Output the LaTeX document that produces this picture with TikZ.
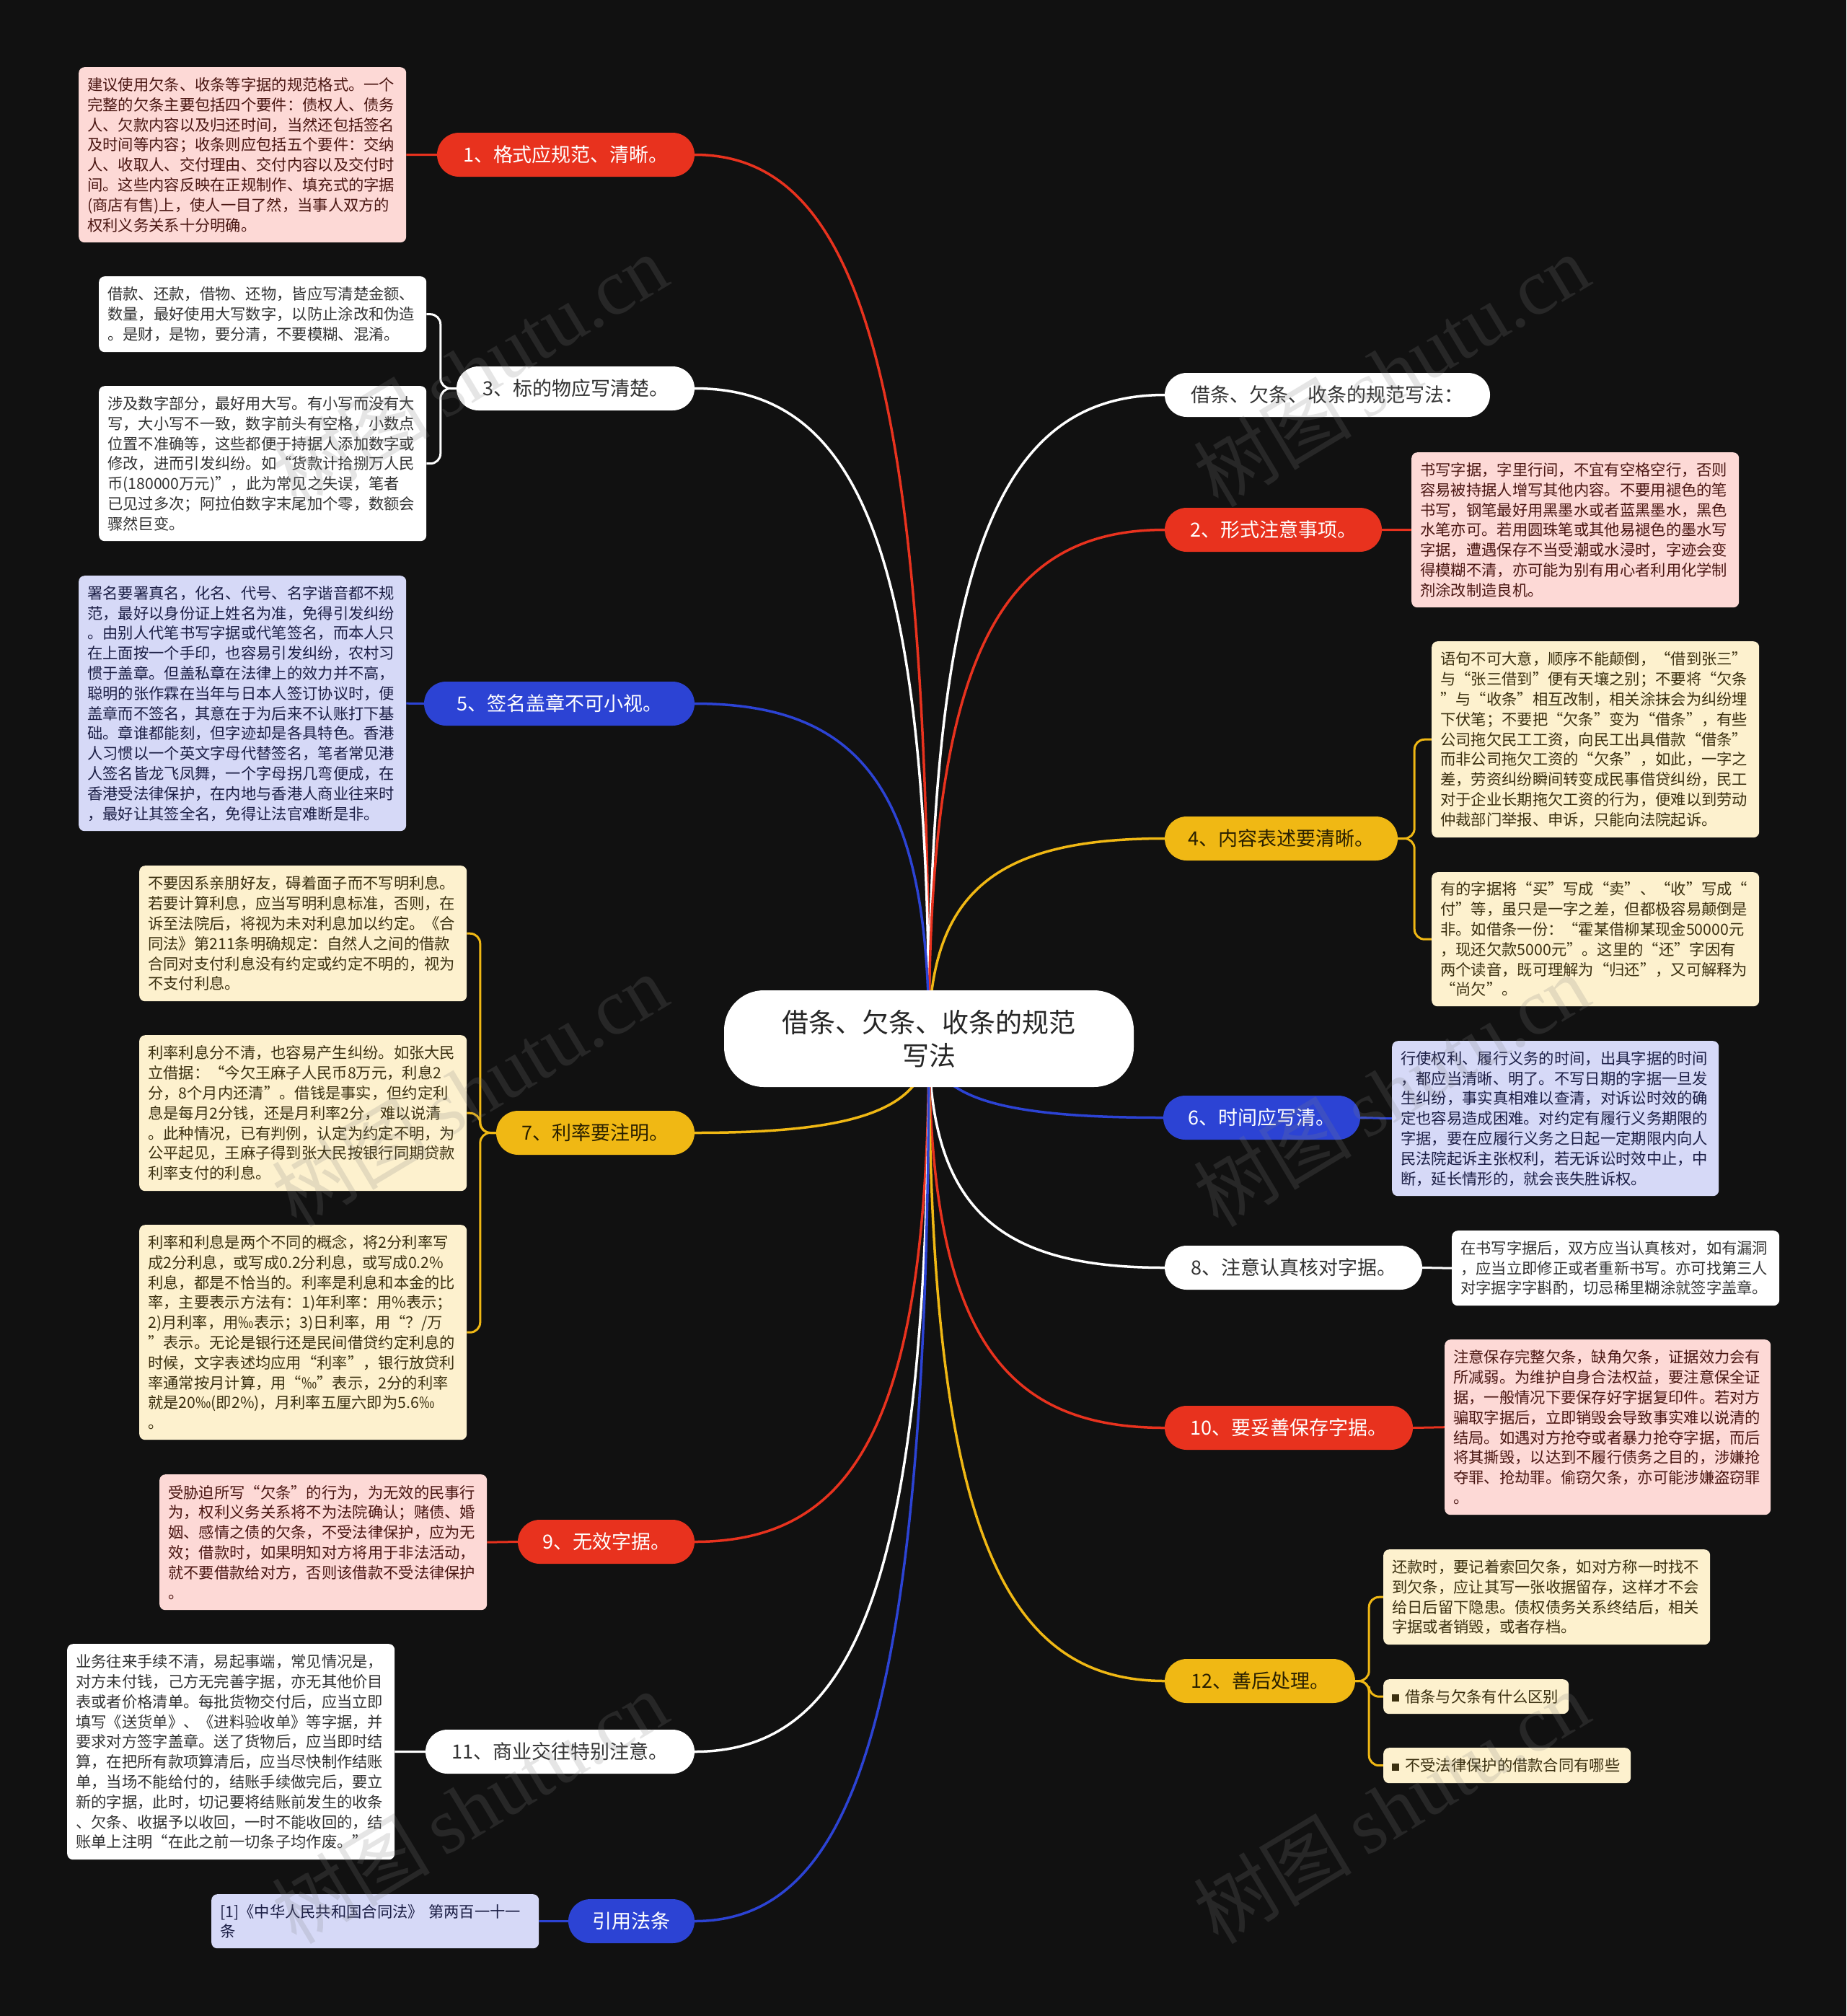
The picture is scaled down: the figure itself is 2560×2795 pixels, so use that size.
\documentclass[tikz,border=0pt]{standalone}
\usepackage{fontspec}
\setmainfont{Noto Sans CJK SC}
\newfontfamily\wmfont{Liberation Serif}
\usetikzlibrary{calc}
\pgfdeclarelayer{bglayer}
\pgfdeclarelayer{linklayer}
\pgfsetlayers{bglayer,linklayer,main}
\definecolor{bgc}{HTML}{111111}
\definecolor{redc}{HTML}{E8321E}
\definecolor{bluec}{HTML}{2C43D4}
\definecolor{yelc}{HTML}{F0B814}
\definecolor{pinkF}{HTML}{FDD9D6}
\definecolor{pinkT}{HTML}{4A1612}
\definecolor{lavF}{HTML}{D6D9F7}
\definecolor{lavT}{HTML}{1B1E45}
\definecolor{creF}{HTML}{FDF1CE}
\definecolor{creT}{HTML}{3B3010}
\definecolor{whtT}{HTML}{333333}
\definecolor{yelT}{HTML}{2A2000}
\newcommand\pl[7]{\pgfmathsetmacro\pw{#5-#3}\pgfmathsetmacro\pcx{(#3+#5)/2}\pgfmathsetmacro\pcy{(#4+#6)/2}\node[#2,minimum width=\pw pt] (#1) at (\pcx,\pcy) {#7};}
\newcommand\lf[7]{\pgfmathsetmacro\lw{#5-#3}\pgfmathsetmacro\lh{#6-#4}\pgfmathsetmacro\tw{#5-#3-24}\node[leaf,#2,minimum width=\lw pt,minimum height=\lh pt,text width=\tw pt] (#1) at (#3,#4) {#7};}
\newcommand\mlink[3]{\draw[mainlink,#1] (C.center) .. controls ($(C.center |- #2.#3)!0.25!(C.center)$) and ($(C.center |- #2.#3)!0.3!(#2.#3)$) .. (#2.#3);}
\begin{document}
\begin{tikzpicture}[x=1pt,y=-1pt,
  pill/.style={rounded corners=30.5pt,minimum height=61pt,inner sep=0pt,font=\fontsize{27pt}{32pt}\selectfont},
  redpill/.style={pill,fill=redc,text=white},
  bluepill/.style={pill,fill=bluec,text=white},
  yelpill/.style={pill,fill=yelc,text=yelT},
  whitepill/.style={pill,fill=white,text=whtT},
  leaf/.style={rounded corners=8pt,anchor=north west,inner xsep=12pt,inner ysep=0pt,align=left,font=\fontsize{21.3pt}{27.8pt}\selectfont},
  pinkleaf/.style={fill=pinkF,text=pinkT},
  lavleaf/.style={fill=lavF,text=lavT},
  creleaf/.style={fill=creF,text=creT},
  whtleaf/.style={fill=white,text=whtT},
  mainlink/.style={line width=3.5pt},
  leaflink/.style={line width=3pt,rounded corners=14pt},
  wm/.style={rotate=31,text=gray,opacity=0.2,font=\fontsize{110pt}{120pt}\selectfont}
]
\useasboundingbox (0,0) rectangle (2560,2795);
\begin{pgfonlayer}{bglayer}
\fill[bgc] (0,0) rectangle (2560,2795);
\end{pgfonlayer}

% centre
\node[fill=white,rounded corners=55pt,minimum width=568pt,minimum height=134pt,align=center,text=black!85,font=\fontsize{37pt}{46pt}\selectfont] (C) at (1288,1440) {借条、欠条、收条的规范\\写法};

% branch pills
\pl{p1}{redpill}{606}{184}{963}{245}{1、格式应规范、清晰。}
\pl{pw}{whitepill}{1615}{517}{2066}{578}{借条、欠条、收条的规范写法：}
\pl{p3}{whitepill}{633}{508}{963}{569}{3、标的物应写清楚。}
\pl{p2}{redpill}{1615}{704}{1916}{765}{2、形式注意事项。}
\pl{p5}{bluepill}{588}{945}{963}{1006}{5、签名盖章不可小视。}
\pl{p4}{yelpill}{1615}{1132}{1938}{1193}{4、内容表述要清晰。}
\pl{p7}{yelpill}{688}{1540}{963}{1601}{7、利率要注明。}
\pl{p6}{bluepill}{1613}{1519}{1886}{1580}{6、时间应写清。}
\pl{p8}{whitepill}{1615}{1727}{1972}{1788}{8、注意认真核对字据。}
\pl{p10}{redpill}{1615}{1949}{1959}{2010}{10、要妥善保存字据。}
\pl{p9}{redpill}{718}{2107}{963}{2168}{9、无效字据。}
\pl{p12}{yelpill}{1615}{2300}{1879}{2361}{12、善后处理。}
\pl{p11}{whitepill}{590}{2398}{963}{2459}{11、商业交往特别注意。}
\pl{pref}{bluepill}{788}{2633}{963}{2694}{引用法条}

% leaves left
\lf{b1}{pinkleaf}{109}{93}{563}{336}{建议使用欠条、收条等字据的规范格式。一个\\完整的欠条主要包括四个要件：债权人、债务\\人、欠款内容以及归还时间，当然还包括签名\\及时间等内容；收条则应包括五个要件：交纳\\人、收取人、交付理由、交付内容以及交付时\\间。这些内容反映在正规制作、填充式的字据\\(商店有售)上，使人一目了然，当事人双方的\\权利义务关系十分明确。}
\lf{b3a}{whtleaf}{137}{383}{591}{488}{借款、还款，借物、还物，皆应写清楚金额、\\数量，最好使用大写数字，以防止涂改和伪造\\。是财，是物，要分清，不要模糊、混淆。}
\lf{b3b}{whtleaf}{137}{535}{591}{750}{涉及数字部分，最好用大写。有小写而没有大\\写，大小写不一致，数字前头有空格，小数点\\位置不准确等，这些都便于持据人添加数字或\\修改，进而引发纠纷。如“货款计拾捌万人民\\币(180000万元)”，此为常见之失误，笔者\\已见过多次；阿拉伯数字末尾加个零，数额会\\骤然巨变。}
\lf{b5}{lavleaf}{109}{798}{563}{1152}{署名要署真名，化名、代号、名字谐音都不规\\范，最好以身份证上姓名为准，免得引发纠纷\\。由别人代笔书写字据或代笔签名，而本人只\\在上面按一个手印，也容易引发纠纷，农村习\\惯于盖章。但盖私章在法律上的效力并不高，\\聪明的张作霖在当年与日本人签订协议时，便\\盖章而不签名，其意在于为后来不认账打下基\\础。章谁都能刻，但字迹却是各具特色。香港\\人习惯以一个英文字母代替签名，笔者常见港\\人签名皆龙飞凤舞，一个字母拐几弯便成，在\\香港受法律保护，在内地与香港人商业往来时\\，最好让其签全名，免得让法官难断是非。}
\lf{b7a}{creleaf}{193}{1200}{647}{1388}{不要因系亲朋好友，碍着面子而不写明利息。\\若要计算利息，应当写明利息标准，否则，在\\诉至法院后，将视为未对利息加以约定。《合\\同法》第211条明确规定：自然人之间的借款\\合同对支付利息没有约定或约定不明的，视为\\不支付利息。}
\lf{b7b}{creleaf}{193}{1435}{647}{1651}{利率利息分不清，也容易产生纠纷。如张大民\\立借据：“今欠王麻子人民币8万元，利息2\\分，8个月内还清”。借钱是事实，但约定利\\息是每月2分钱，还是月利率2分，难以说清\\。此种情况，已有判例，认定为约定不明，为\\公平起见，王麻子得到张大民按银行同期贷款\\利率支付的利息。}
\lf{b7c}{creleaf}{193}{1698}{647}{1996}{利率和利息是两个不同的概念，将2分利率写\\成2分利息，或写成0.2分利息，或写成0.2\%\\利息，都是不恰当的。利率是利息和本金的比\\率，主要表示方法有：1)年利率：用\%表示；\\2)月利率，用‰表示；3)日利率，用“？/万\\”表示。无论是银行还是民间借贷约定利息的\\时候，文字表述均应用“利率”，银行放贷利\\率通常按月计算，用“‰”表示，2分的利率\\就是20‰(即2\%)，月利率五厘六即为5.6‰\\。}
\lf{b9}{pinkleaf}{221}{2044}{675}{2232}{受胁迫所写“欠条”的行为，为无效的民事行\\为，权利义务关系将不为法院确认；赌债、婚\\姻、感情之债的欠条，不受法律保护，应为无\\效；借款时，如果明知对方将用于非法活动，\\就不要借款给对方，否则该借款不受法律保护\\。}
\lf{b11}{whtleaf}{93}{2279}{547}{2578}{业务往来手续不清，易起事端，常见情况是，\\对方未付钱，己方无完善字据，亦无其他价目\\表或者价格清单。每批货物交付后，应当立即\\填写《送货单》、《进料验收单》等字据，并\\要求对方签字盖章。送了货物后，应当即时结\\算，在把所有款项算清后，应当尽快制作结账\\单，当场不能给付的，结账手续做完后，要立\\新的字据，此时，切记要将结账前发生的收条\\、欠条、收据予以收回，一时不能收回的，结\\账单上注明“在此之前一切条子均作废。”}
\lf{bref}{lavleaf}{293}{2626}{747}{2701}{{[1]}《中华人民共和国合同法》~第两百一十一\\条}

% leaves right
\lf{b2}{pinkleaf}{1957}{627}{2411}{842}{书写字据，字里行间，不宜有空格空行，否则\\容易被持据人增写其他内容。不要用褪色的笔\\书写，钢笔最好用黑墨水或者蓝黑墨水，黑色\\水笔亦可。若用圆珠笔或其他易褪色的墨水写\\字据，遭遇保存不当受潮或水浸时，字迹会变\\得模糊不清，亦可能为别有用心者利用化学制\\剂涂改制造良机。}
\lf{b4a}{creleaf}{1985}{889}{2439}{1161}{语句不可大意，顺序不能颠倒，“借到张三”\\与“张三借到”便有天壤之别；不要将“欠条\\”与“收条”相互改制，相关涂抹会为纠纷埋\\下伏笔；不要把“欠条”变为“借条”，有些\\公司拖欠民工工资，向民工出具借款“借条”\\而非公司拖欠工资的“欠条”，如此，一字之\\差，劳资纠纷瞬间转变成民事借贷纠纷，民工\\对于企业长期拖欠工资的行为，便难以到劳动\\仲裁部门举报、申诉，只能向法院起诉。}
\lf{b4b}{creleaf}{1985}{1209}{2439}{1395}{有的字据将“买”写成“卖”、“收”写成“\\付”等，虽只是一字之差，但都极容易颠倒是\\非。如借条一份：“霍某借柳某现金50000元\\，现还欠款5000元”。这里的“还”字因有\\两个读音，既可理解为“归还”，又可解释为\\“尚欠”。}
\lf{b6}{lavleaf}{1930}{1443}{2383}{1658}{行使权利、履行义务的时间，出具字据的时间\\，都应当清晰、明了。不写日期的字据一旦发\\生纠纷，事实真相难以查清，对诉讼时效的确\\定也容易造成困难。对约定有履行义务期限的\\字据，要在应履行义务之日起一定期限内向人\\民法院起诉主张权利，若无诉讼时效中止，中\\断，延长情形的，就会丧失胜诉权。}
\lf{b8}{whtleaf}{2013}{1706}{2467}{1810}{在书写字据后，双方应当认真核对，如有漏洞\\，应当立即修正或者重新书写。亦可找第三人\\对字据字字斟酌，切忌稀里糊涂就签字盖章。}
\lf{b10}{pinkleaf}{2003}{1857}{2455}{2100}{注意保存完整欠条，缺角欠条，证据效力会有\\所减弱。为维护自身合法权益，要注意保全证\\据，一般情况下要保存好字据复印件。若对方\\骗取字据后，立即销毁会导致事实难以说清的\\结局。如遇对方抢夺或者暴力抢夺字据，而后\\将其撕毁，以达到不履行债务之目的，涉嫌抢\\夺罪、抢劫罪。偷窃欠条，亦可能涉嫌盗窃罪\\。}
\lf{b12a}{creleaf}{1918}{2148}{2371}{2280}{还款时，要记着索回欠条，如对方称一时找不\\到欠条，应让其写一张收据留存，这样才不会\\给日后留下隐患。债权债务关系终结后，相关\\字据或者销毁，或者存档。}
\lf{b12b}{creleaf}{1918}{2328}{2175}{2376}{\rule[1pt]{10pt}{10pt}\hspace{8pt}借条与欠条有什么区别}
\lf{b12c}{creleaf}{1918}{2423}{2261}{2472}{\rule[1pt]{10pt}{10pt}\hspace{8pt}不受法律保护的借款合同有哪些}

\begin{pgfonlayer}{linklayer}
\mlink{redc}{p1}{east}
\mlink{white}{pw}{west}
\mlink{white}{p3}{east}
\mlink{redc}{p2}{west}
\mlink{bluec}{p5}{east}
\mlink{yelc}{p4}{west}
\mlink{yelc}{p7}{east}
\mlink{bluec}{p6}{west}
\mlink{white}{p8}{west}
\mlink{redc}{p10}{west}
\mlink{redc}{p9}{east}
\mlink{yelc}{p12}{west}
\mlink{white}{p11}{east}
\mlink{bluec}{pref}{east}
% leaf links
\draw[leaflink,redc] (p1.west) -- (b1.east);
\draw[leaflink,white] (p3.west) -- ++(-22,0) |- (b3a.east);
\draw[leaflink,white] (p3.west) -- ++(-22,0) |- (b3b.east);
\draw[leaflink,bluec] (p5.west) -- (b5.east);
\draw[leaflink,yelc] (p7.west) -- ++(-22,0) |- (b7a.east);
\draw[leaflink,yelc] (p7.west) -- ++(-22,0) |- (b7b.east);
\draw[leaflink,yelc] (p7.west) -- ++(-22,0) |- (b7c.east);
\draw[leaflink,redc] (p9.west) -- (b9.east);
\draw[leaflink,white] (p11.west) -- (b11.east);
\draw[leaflink,bluec] (pref.west) -- (bref.east);
\draw[leaflink,redc] (p2.east) -- (b2.west);
\draw[leaflink,yelc] (p4.east) -- ++(23,0) |- (b4a.west);
\draw[leaflink,yelc] (p4.east) -- ++(23,0) |- (b4b.west);
\draw[leaflink,bluec] (p6.east) -- (b6.west);
\draw[leaflink,white] (p8.east) -- (b8.west);
\draw[leaflink,redc] (p10.east) -- (b10.west);
\draw[leaflink,yelc] (p12.east) -- ++(19,0) |- (b12a.west);
\draw[leaflink,yelc] (p12.east) -- ++(19,0) |- (b12b.west);
\draw[leaflink,yelc] (p12.east) -- ++(19,0) |- (b12c.west);
\end{pgfonlayer}

% watermarks
\foreach \wx/\wy [count=\i] in {651/513,1929/513,651/1511,1929/1511,651/2505,1929/2505}{
  \node[wm] (wm\i) at (\wx,\wy) {树图\hspace{20pt}{\wmfont shutu.cn}};
}
\end{tikzpicture}
\end{document}
